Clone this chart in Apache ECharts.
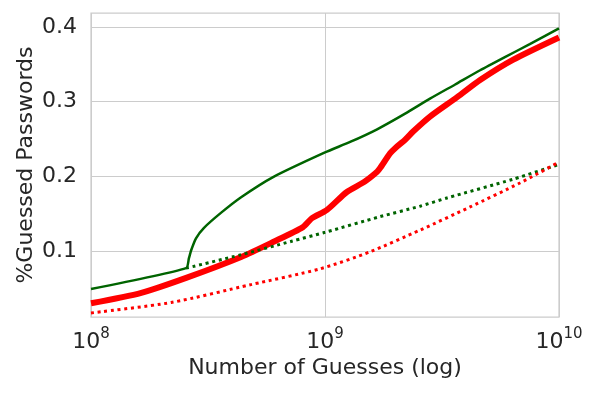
<!DOCTYPE html>
<html>
<head>
<meta charset="utf-8">
<script src="https://cdn.jsdelivr.net/npm/echarts@6/dist/echarts.min.js"></script>
<style>html,body{margin:0;padding:0;background:#fff;}#c{width:598px;height:396px;}</style>
</head>
<body>
<div id="c"></div>
<script>
// guesses (x) and fraction guessed (y) for each curve
const redSolidX = [1e8, 1.64e8, 2.55e8, 4.38e8, 6.0e8, 8.05e8, 8.8e8, 1.02e9, 1.24e9, 1.48e9, 1.67e9, 1.72e9, 1.9e9, 2.0e9, 2.2e9, 2.38e9, 2.81e9, 3.67e9, 4.6e9, 6.35e9, 1e10];
const redSolidY = [0.030, 0.044, 0.064, 0.092, 0.112, 0.132, 0.144, 0.155, 0.179, 0.193, 0.206, 0.211, 0.231, 0.238, 0.249, 0.260, 0.280, 0.306, 0.329, 0.356, 0.386];
const greenSolidX = [1e8, 2.55e8, 2.62e8, 2.68e8, 2.81e8, 3.04e8, 3.59e8, 4.38e8, 6.0e8, 1e9, 1.28e9, 1.67e9, 2.2e9, 2.81e9, 3.6e9, 4.6e9, 5.9e9, 7.5e9, 1e10];
const greenSolidY = [0.049, 0.077, 0.090, 0.101, 0.117, 0.131, 0.151, 0.172, 0.199, 0.232, 0.246, 0.263, 0.284, 0.304, 0.323, 0.342, 0.360, 0.377, 0.398];
const greenDotX = [2.55e8, 4.38e8, 7.2e8, 1e9, 1.72e9, 2.55e9, 3.32e9, 6.35e9, 1e10];
const greenDotY = [0.077, 0.095, 0.113, 0.125, 0.146, 0.160, 0.171, 0.196, 0.216];
const redDotX = [1e8, 2.2e8, 4.83e8, 9.5e8, 1.56e9, 2.55e9, 4.17e9, 6.8e9, 1e10];
const redDotY = [0.017, 0.031, 0.055, 0.076, 0.099, 0.128, 0.159, 0.191, 0.219];
const yTicks = [0.1, 0.2, 0.3, 0.4];

const pairs = (xs, ys) => xs.map((x, i) => [x, ys[i]]);
const txt = '#262626';
const gridCol = '#cccccc';
const font = 'DejaVu Sans';

const chart = echarts.init(document.getElementById('c'), null, {renderer: 'canvas'});
chart.setOption({
  animation: false,
  backgroundColor: '#ffffff',
  grid: {left: 91, right: 39, top: 13, bottom: 79, show: true, borderColor: gridCol, borderWidth: 1.25, containLabel: false},
  xAxis: {
    type: 'log', logBase: 10, min: 1e8, max: 1e10,
    name: 'Number of Guesses (log)', nameLocation: 'middle', nameGap: 40, nameMoveOverlap: false,
    nameTextStyle: {color: txt, fontSize: 22, fontFamily: font},
    axisLine: {show: false}, axisTick: {show: false},
    splitLine: {show: true, lineStyle: {color: gridCol, width: 1}},
    axisLabel: {
      margin: 10, color: txt, fontFamily: font,
      formatter: v => '{b|10}{s|' + Math.round(Math.log10(v)) + '}',
      rich: {
        b: {fontSize: 22, fontFamily: font, color: txt, verticalAlign: 'bottom', lineHeight: 26},
        s: {fontSize: 15, fontFamily: font, color: txt, verticalAlign: 'top', lineHeight: 15}
      }
    }
  },
  yAxis: {
    type: 'value', min: 0.0116, max: 0.4187,
    name: '%Guessed Passwords', nameLocation: 'middle', nameGap: 54, nameMoveOverlap: false,
    nameTextStyle: {color: txt, fontSize: 22, fontFamily: font},
    axisLine: {show: false},
    axisTick: {show: false, customValues: yTicks},
    splitLine: {show: true, lineStyle: {color: gridCol, width: 1}},
    axisLabel: {customValues: yTicks, margin: 14, color: txt, fontSize: 22, fontFamily: font, formatter: v => v.toFixed(1)}
  },
  series: [
    {type: 'line', data: pairs(redSolidX, redSolidY), showSymbol: false, smooth: 0.25, lineStyle: {color: '#ff0000', width: 6}, z: 3},
    {type: 'line', data: pairs(greenSolidX, greenSolidY), showSymbol: false, smooth: 0.2, lineStyle: {color: '#006400', width: 2.5}, z: 4},
    {type: 'line', data: pairs(greenDotX, greenDotY), showSymbol: false, smooth: 0.25, lineStyle: {color: '#006400', width: 3, type: [3, 3.7]}, z: 5},
    {type: 'line', data: pairs(redDotX, redDotY), showSymbol: false, smooth: 0.25, lineStyle: {color: '#ff0000', width: 3, type: [3, 3.7]}, z: 6}
  ]
});
</script>
</body>
</html>
